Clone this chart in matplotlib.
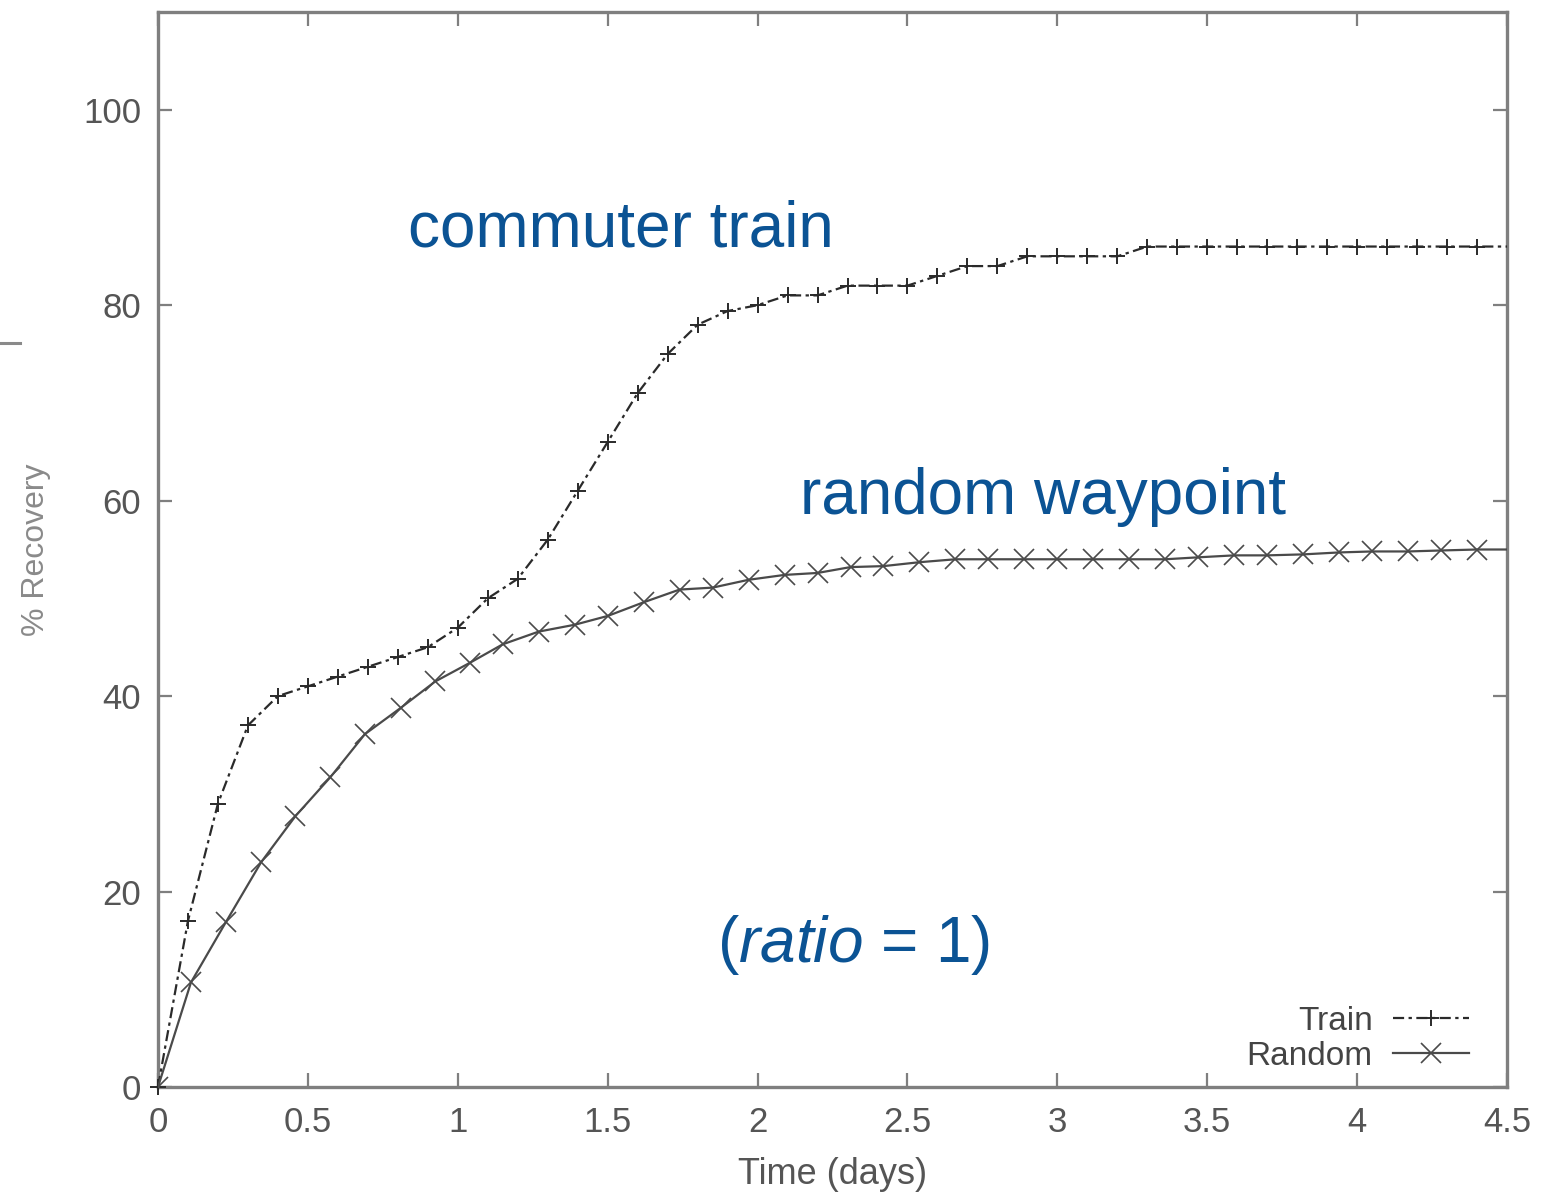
import matplotlib
matplotlib.use("Agg")
import matplotlib.pyplot as plt
from matplotlib.lines import Line2D

# ---- data ----
train_x = [0.0, 0.1, 0.2, 0.3, 0.4, 0.5, 0.6, 0.7, 0.8, 0.9,
           1.0, 1.1, 1.2, 1.3, 1.4, 1.5, 1.6, 1.7, 1.8, 1.9,
           2.0, 2.1, 2.2, 2.3, 2.4, 2.5, 2.6, 2.7, 2.8, 2.9,
           3.0, 3.1, 3.2, 3.3, 3.4, 3.5, 3.6, 3.7, 3.8, 3.9,
           4.0, 4.1, 4.2, 4.3, 4.4, 4.5]
train_y = [0, 17, 29, 37, 40, 41, 42, 43, 44, 45,
           47, 50, 52, 56, 61, 66, 71, 75, 78, 79.4,
           80, 81, 81, 82, 82, 82, 83, 84, 84, 85,
           85, 85, 85, 86, 86, 86, 86, 86, 86, 86,
           86, 86, 86, 86, 86, 86]

random_x = [0.0, 0.11, 0.227, 0.344, 0.458, 0.575, 0.69, 0.81, 0.925, 1.04,
            1.15, 1.27, 1.39, 1.5, 1.62, 1.74, 1.85, 1.97, 2.09, 2.2,
            2.31, 2.42, 2.54, 2.66, 2.77, 2.89, 3.0, 3.12, 3.24, 3.36,
            3.47, 3.59, 3.7, 3.82, 3.94, 4.05, 4.17, 4.28, 4.4, 4.5]
random_y = [0, 10.7, 16.9, 23, 27.7, 31.7, 36.1, 38.8, 41.5, 43.4,
            45.3, 46.6, 47.3, 48.2, 49.6, 50.9, 51.1, 51.9, 52.4, 52.6,
            53.2, 53.3, 53.7, 54.0, 54.0, 54.0, 54.0, 54.0, 54.0, 54.0,
            54.2, 54.4, 54.4, 54.5, 54.7, 54.8, 54.8, 54.9, 55.0, 55.0]

x_ticks = [0, 0.5, 1, 1.5, 2, 2.5, 3, 3.5, 4, 4.5]
x_tick_labels = ["0", "0.5", "1", "1.5", "2", "2.5", "3", "3.5", "4", "4.5"]
y_ticks = [0, 20, 40, 60, 80, 100]
y_tick_labels = ["0", "20", "40", "60", "80", "100"]

sans = ["Liberation Sans", "DejaVu Sans"]
blue = "#0b5394"
frame_gray = "#7f7f7f"

plt.rcParams["font.family"] = sans
plt.rcParams["mathtext.fontset"] = "custom"
plt.rcParams["mathtext.it"] = "Liberation Sans:italic"
plt.rcParams["mathtext.rm"] = "Liberation Sans"

fig = plt.figure(figsize=(15.58, 11.99), dpi=100)
ax = fig.add_axes([0.1014, 0.0934, 0.8659, 0.8966])

# series (last point has no marker, line runs into the frame)
ax.plot(train_x, train_y, color="#2a2a2a", lw=1.6,
        linestyle=(0, (5, 2, 1.5, 2)), marker="+", ms=12, mew=1.4,
        markevery=list(range(len(train_x) - 1)), label="Train",
        clip_on=False, zorder=3)
ax.plot(random_x, random_y, color="#4a4a4a", lw=1.6, linestyle="-",
        marker="x", ms=14, mew=1.2,
        markevery=list(range(len(random_x) - 1)), label="Random",
        zorder=3)

ax.set_xlim(0, 4.5)
ax.set_ylim(0, 110)
ax.set_xticks(x_ticks)
ax.set_xticklabels(x_tick_labels)
ax.set_yticks(y_ticks)
ax.set_yticklabels(y_tick_labels)

ax.tick_params(direction="in", length=10, width=1.6, color=frame_gray,
               labelsize=25, labelcolor="#555555", pad=12,
               top=True, right=True)
ax.tick_params(axis="x", pad=14)
for s in ax.spines.values():
    s.set_color(frame_gray)
    s.set_linewidth(2.4)

ax.set_xlabel("Time (days)", fontsize=26, color="#555555")
ax.xaxis.set_label_coords(0.5, -0.065)
ax.set_ylabel("% Recovery", fontsize=23, color="#8a8a8a")
ax.yaxis.set_label_coords(-0.079, 0.5)

# blue annotations
ax.text(0.835, 86, "commuter train", fontsize=46, color=blue,
        va="baseline")
ax.text(2.14, 58.6, "random waypoint", fontsize=46, color=blue,
        va="baseline")
ax.text(1.865, 12.8, r"($\mathit{ratio}$ = 1)", fontsize=46, color=blue,
        va="baseline")

ax.legend(loc="lower right", bbox_to_anchor=(0.972, 0.014),
          frameon=False, markerfirst=False, fontsize=24,
          handlelength=2.3, numpoints=1, labelspacing=0.12,
          borderaxespad=0, borderpad=0, handletextpad=0.6,
          labelcolor="#444444")

# small stray mark at the left edge of the slide
fig.add_artist(Line2D([0.0, 0.013], [0.714, 0.714], color="#8a8a8a",
                      lw=2.2, transform=fig.transFigure))

fig.savefig("out.png", dpi=100, facecolor="white")
